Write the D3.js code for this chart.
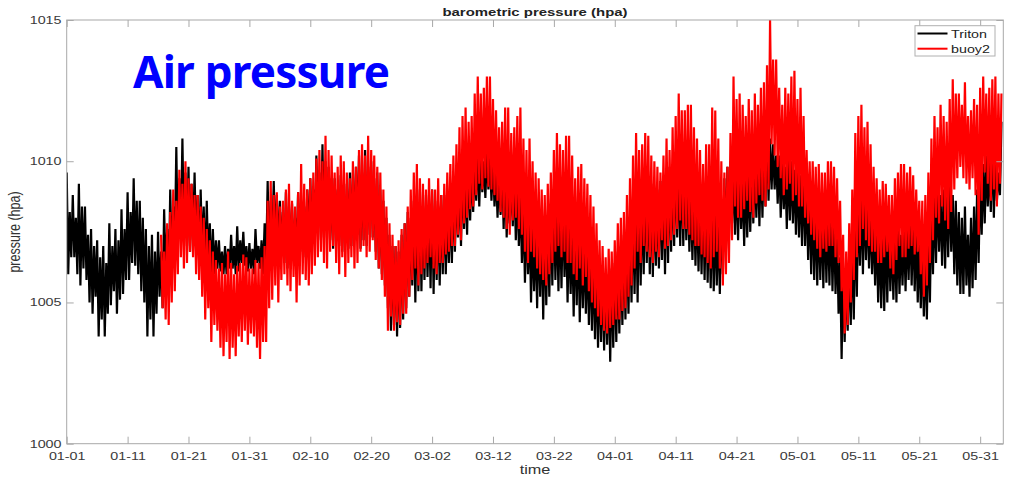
<!DOCTYPE html>
<html>
<head>
<meta charset="utf-8">
<script src="https://cdn.jsdelivr.net/npm/d3@7"></script>
<style>
  body { margin: 0; background: #fff; }
</style>
</head>
<body>
<script>
// 6-hourly readings (high, low, high, low per day)
const tritonJan = [
  1009.6,1006.0,1008.2,1006.6, 1008.8,1006.6,1008.0,1006.0, 1009.2,1005.6,1008.4,1006.2, 1008.4,1005.8,1007.4,1005.0,
  1007.6,1004.6,1007.0,1005.2, 1007.2,1003.8,1006.6,1004.4, 1007.0,1003.8,1006.4,1004.6, 1007.8,1004.9,1007.0,1005.4,
  1007.6,1004.6,1007.2,1005.1, 1008.3,1005.3,1007.6,1005.8, 1008.9,1005.8,1008.2,1006.4, 1009.4,1006.3,1008.6,1006.0,
  1008.6,1005.4,1008.0,1005.0, 1007.6,1003.8,1007.0,1004.4, 1007.4,1003.8,1006.8,1004.6, 1007.5,1005.2,1006.8,1004.8,
  1008.3,1006.0,1007.6,1005.4, 1009.0,1006.4,1008.4,1006.8, 1010.5,1007.0,1009.4,1007.4, 1010.8,1007.5,1009.6,1007.0,
  1009.8,1006.8,1009.2,1007.2, 1009.6,1006.9,1008.8,1006.4, 1009.0,1006.6,1008.4,1006.0, 1008.6,1006.3,1007.8,1005.8,
  1007.6,1006.0,1007.2,1006.2, 1007.2,1006.1,1006.8,1006.0, 1007.0,1006.0,1006.9,1006.2, 1007.4,1006.2,1007.0,1006.0,
  1007.7,1006.1,1007.2,1006.4, 1007.5,1006.3,1007.0,1006.1, 1007.1,1006.2,1006.9,1006.0];
const tritonFeb = [
  1007.6,1006.4,1007.0,1006.2, 1007.2,1006.0,1007.8,1006.4, 1009.3,1006.5,1008.6,1006.9, 1009.3,1007.0,1008.8,1006.6,
  1008.6,1006.8,1008.2,1006.4, 1008.9,1006.2,1008.4,1006.6, 1008.5,1006.5,1008.0,1006.8, 1008.9,1007.2,1008.6,1006.8,
  1008.4,1006.6,1009.0,1007.0, 1009.4,1007.3,1009.0,1007.6, 1010.2,1007.6,1009.6,1007.2, 1010.6,1007.3,1010.0,1007.6,
  1009.8,1007.2,1009.4,1006.9, 1009.4,1007.5,1009.0,1007.0, 1009.5,1006.8,1009.0,1007.2, 1009.2,1006.9,1009.6,1007.0,
  1009.6,1007.2,1009.8,1007.4, 1010.2,1006.9,1009.6,1007.2, 1010.4,1007.0,1009.8,1007.4, 1010.0,1007.3,1009.4,1006.8,
  1009.6,1006.2,1009.0,1006.0, 1008.6,1005.6,1008.0,1004.8, 1007.4,1004.0,1007.0,1004.2, 1007.0,1003.8,1006.8,1004.1,
  1007.4,1004.4,1007.8,1004.8, 1008.2,1005.2,1008.0,1005.6, 1008.6,1005.0,1008.2,1005.4, 1009.0,1005.4,1008.4,1005.8];
const tritonMar = [
  1008.8,1005.9,1008.4,1005.5, 1009.0,1005.3,1008.6,1005.8, 1008.4,1005.6,1008.8,1006.0, 1008.8,1006.0,1008.4,1006.4,
  1008.6,1006.4,1009.0,1006.8, 1009.4,1007.3,1009.2,1007.0, 1009.8,1007.6,1009.4,1007.4, 1010.2,1007.9,1009.8,1008.2,
  1010.0,1008.6,1010.3,1008.4, 1010.4,1008.9,1010.0,1008.7, 1010.3,1009.0,1010.1,1008.6, 1010.0,1008.4,1009.6,1008.0,
  1009.6,1008.1,1009.9,1007.6, 1009.8,1007.3,1009.2,1007.8, 1009.4,1007.7,1009.6,1007.2, 1009.2,1007.0,1008.8,1006.4,
  1008.4,1005.7,1008.2,1006.0, 1008.0,1005.0,1007.6,1005.4, 1007.6,1004.8,1007.9,1005.2, 1007.8,1004.4,1008.0,1004.9,
  1008.0,1005.2,1008.4,1005.6, 1008.6,1005.8,1008.2,1005.4, 1008.4,1005.5,1008.6,1005.9, 1008.0,1005.0,1007.8,1005.3,
  1007.6,1004.5,1007.9,1004.9, 1007.8,1004.3,1007.4,1004.8, 1007.2,1004.6,1007.0,1004.2, 1006.9,1004.0,1006.6,1003.7,
  1006.4,1003.4,1006.2,1003.6, 1006.2,1003.3,1006.0,1003.5, 1006.0,1002.9,1006.2,1003.4];
const tritonApr = [
  1006.4,1003.6,1006.8,1003.9, 1007.0,1004.2,1007.4,1004.4, 1007.6,1004.6,1008.0,1005.0, 1008.6,1005.3,1008.8,1005.0,
  1009.2,1005.6,1009.0,1006.0, 1009.6,1006.4,1009.2,1006.0, 1009.2,1005.9,1008.8,1006.3, 1009.0,1006.2,1009.3,1006.5,
  1009.4,1006.0,1009.6,1006.4, 1009.8,1006.8,1009.6,1007.0, 1010.2,1007.3,1009.8,1007.0, 1010.0,1007.0,1009.6,1007.2,
  1009.4,1006.8,1009.0,1006.5, 1009.0,1006.3,1008.8,1006.1, 1008.6,1006.0,1008.9,1005.8, 1008.8,1005.7,1008.4,1005.5,
  1008.4,1005.4,1008.2,1005.6, 1008.0,1005.3,1008.6,1006.0, 1009.4,1006.8,1009.8,1007.2, 1010.0,1007.8,1009.6,1007.4,
  1009.6,1007.2,1009.8,1007.6, 1009.3,1007.0,1009.6,1007.3, 1009.6,1007.5,1009.9,1007.8, 1010.0,1008.0,1010.2,1007.7,
  1010.4,1008.0,1010.8,1008.4, 1011.2,1008.6,1010.8,1009.0, 1010.6,1009.0,1010.2,1008.5, 1010.2,1008.0,1010.0,1008.3,
  1009.8,1007.6,1010.2,1007.9, 1010.0,1007.8,1009.7,1007.4];
const tritonMay = [
  1009.8,1007.3,1009.5,1007.0, 1009.6,1007.0,1009.2,1006.5, 1009.0,1006.0,1008.8,1005.8, 1008.6,1005.6,1008.4,1005.8,
  1008.4,1005.5,1008.6,1005.7, 1008.2,1005.6,1008.4,1005.4, 1008.0,1005.3,1007.4,1004.6, 1006.6,1003.0,1006.2,1003.6,
  1006.0,1004.0,1006.8,1004.2, 1007.6,1004.4,1008.4,1005.2, 1009.2,1006.3,1008.9,1006.0, 1009.0,1006.5,1008.6,1006.2,
  1008.4,1006.0,1008.0,1005.6, 1007.8,1005.0,1007.6,1004.8, 1007.6,1004.7,1007.9,1005.0, 1007.8,1005.4,1007.5,1005.1,
  1007.6,1005.0,1007.8,1005.3, 1007.4,1005.6,1007.6,1005.4, 1007.8,1005.8,1008.1,1005.6, 1008.0,1005.4,1007.6,1005.0,
  1007.2,1004.8,1007.0,1004.5, 1006.8,1004.4,1007.6,1005.0, 1008.6,1006.0,1008.9,1006.4, 1009.2,1006.8,1008.8,1006.3,
  1009.0,1006.2,1009.3,1006.6, 1009.4,1006.8,1008.8,1006.0, 1008.6,1005.6,1008.2,1005.3, 1008.0,1005.3,1008.4,1005.6,
  1007.4,1005.2,1008.0,1005.5, 1008.4,1005.8,1009.0,1006.4, 1009.6,1007.4,1009.9,1007.8];
const tritonJun = [1010.2,1008.4,1010.0,1008.2, 1010.8,1008.0,1010.4,1008.6, 1009.6,1008.8,1011.4];

const buoyJan = [
  1007.4,1004.8,1006.8,1004.4, 1007.8,1004.2,1008.2,1005.0, 1009.0,1005.4,1008.6,1006.0, 1009.7,1006.6,1009.2,1006.2,
  1010.0,1006.4,1009.4,1006.8, 1009.2,1006.6,1008.8,1006.0, 1008.8,1005.8,1008.4,1005.2, 1008.0,1004.4,1007.6,1004.8,
  1007.2,1003.6,1006.8,1004.2, 1006.5,1004.0,1006.2,1003.4, 1006.4,1003.1,1006.0,1003.6, 1006.8,1003.0,1006.4,1003.4,
  1006.0,1003.1,1006.3,1003.8, 1006.4,1003.6,1006.7,1004.0, 1006.6,1003.5,1006.2,1003.9, 1006.2,1003.8,1006.5,1003.4];
const buoyFeb = [
  1006.4,1003.0,1006.6,1003.6, 1007.0,1003.6,1008.6,1004.8, 1009.3,1005.1,1008.8,1005.6, 1008.9,1005.0,1008.4,1005.8,
  1008.6,1006.0,1009.0,1005.6, 1009.2,1005.4,1008.6,1005.9, 1008.4,1005.0,1008.9,1005.6, 1009.9,1006.0,1009.2,1005.8,
  1009.0,1005.6,1009.4,1006.0, 1009.6,1006.3,1010.1,1006.6, 1010.4,1006.8,1010.0,1006.4, 1010.9,1006.2,1010.4,1006.8,
  1010.2,1007.0,1009.6,1006.4, 1009.8,1006.0,1010.2,1006.6, 1010.0,1005.9,1009.6,1006.4, 1009.4,1006.6,1010.0,1006.2,
  1009.8,1006.4,1010.4,1006.8, 1010.6,1007.0,1010.2,1006.6, 1010.9,1006.8,1010.4,1007.2, 1010.2,1006.5,1009.8,1006.2,
  1009.6,1005.8,1009.0,1005.2, 1008.4,1004.0,1007.8,1004.5, 1007.4,1004.0,1007.0,1004.3, 1007.2,1004.2,1007.6,1004.6,
  1007.8,1004.6,1008.4,1005.2, 1009.0,1005.8,1009.6,1006.2, 1009.9,1005.6,1009.4,1006.0, 1009.2,1006.2,1009.0,1006.4];
const buoyMar = [
  1009.4,1006.6,1009.0,1006.2, 1009.0,1006.0,1009.4,1006.4, 1008.8,1006.4,1009.2,1006.7, 1009.6,1006.8,1009.9,1007.0,
  1010.2,1007.0,1010.6,1007.4, 1011.2,1007.2,1011.6,1007.8, 1011.9,1008.0,1011.4,1008.3, 1011.6,1008.4,1012.4,1008.8,
  1013.0,1009.2,1012.4,1009.0, 1012.6,1009.4,1013.0,1009.1, 1013.0,1009.0,1012.2,1008.8, 1011.8,1008.6,1011.2,1008.2,
  1011.4,1008.0,1011.9,1007.6, 1011.9,1007.4,1011.0,1007.9, 1011.2,1008.0,1011.6,1007.6, 1011.9,1007.4,1010.8,1006.8,
  1010.4,1006.4,1010.8,1006.8, 1010.0,1006.6,1009.6,1006.2, 1009.4,1006.0,1009.0,1005.8, 1008.8,1005.6,1009.2,1006.0,
  1009.6,1006.4,1010.4,1006.8, 1011.0,1007.0,1010.6,1006.6, 1010.4,1006.8,1010.9,1006.4, 1010.9,1006.4,1010.2,1006.0,
  1009.4,1005.8,1009.8,1006.2, 1009.9,1005.6,1009.4,1005.9, 1009.2,1005.4,1008.8,1005.0, 1008.4,1004.8,1007.8,1004.5,
  1007.2,1004.2,1007.0,1004.0, 1006.6,1003.9,1006.9,1004.1, 1006.8,1004.2,1007.2,1004.4];
const buoyApr = [
  1007.8,1004.4,1008.0,1004.7, 1008.2,1004.8,1008.8,1005.2, 1009.4,1005.6,1010.2,1006.2, 1011.0,1006.8,1010.4,1006.4,
  1010.6,1007.0,1011.0,1006.8, 1010.9,1006.6,1010.2,1006.4, 1010.0,1006.8,1009.8,1006.6, 1009.6,1007.2,1010.2,1006.9,
  1010.8,1007.0,1010.4,1007.2, 1011.2,1007.4,1011.6,1007.6, 1012.4,1007.9,1011.8,1007.6, 1011.8,1007.6,1012.0,1007.4,
  1012.0,1007.2,1011.2,1007.0, 1010.8,1007.0,1010.4,1006.7, 1009.9,1006.6,1010.6,1006.4, 1010.6,1006.2,1011.9,1006.6,
  1011.8,1006.8,1010.8,1006.2, 1010.0,1005.6,1009.6,1006.0, 1009.8,1006.4,1011.0,1007.2, 1013.0,1008.4,1012.2,1008.0,
  1012.4,1008.0,1012.0,1008.3, 1011.6,1008.6,1012.2,1008.2, 1011.8,1008.0,1012.4,1008.5, 1012.0,1008.8,1012.6,1008.6,
  1012.8,1008.4,1013.4,1009.0, 1015.0,1010.6,1013.6,1010.2, 1013.6,1009.8,1012.6,1009.4, 1012.0,1008.8,1012.6,1009.0,
  1012.4,1009.2,1013.0,1008.6, 1013.2,1008.8,1012.2,1008.4];
const buoyMay = [
  1012.6,1008.4,1011.6,1008.0, 1010.4,1007.8,1010.0,1007.4, 1010.0,1007.2,1009.8,1006.9, 1009.9,1006.6,1009.6,1006.9,
  1009.6,1006.8,1010.0,1007.0, 1010.0,1007.0,1009.8,1006.6, 1009.4,1006.4,1008.6,1005.4, 1007.4,1003.9,1006.8,1004.2,
  1007.8,1005.0,1009.0,1005.8, 1011.0,1006.6,1011.6,1007.0, 1012.0,1007.6,1011.2,1007.2, 1011.4,1007.0,1010.6,1006.8,
  1009.8,1006.8,1009.4,1006.4, 1009.0,1006.4,1009.3,1006.6, 1009.2,1006.8,1008.8,1006.2, 1008.8,1006.0,1009.4,1006.5,
  1009.6,1007.0,1009.9,1006.6, 1009.9,1006.6,1009.6,1006.9, 1009.8,1007.0,1009.5,1006.7, 1009.0,1006.8,1008.6,1006.0,
  1008.6,1005.2,1008.8,1005.6, 1009.6,1006.4,1010.8,1007.2, 1011.6,1008.0,1011.2,1007.8, 1012.0,1008.4,1011.6,1007.9,
  1011.4,1007.6,1012.2,1008.2, 1012.9,1009.0,1012.4,1009.4, 1012.4,1009.8,1012.0,1009.4, 1012.8,1009.2,1011.6,1009.0,
  1011.8,1009.4,1012.2,1008.8, 1012.0,1007.4,1012.6,1008.6, 1013.0,1009.6,1012.4,1009.2];
const buoyJun = [1012.6,1008.6,1012.9,1009.0, 1013.0,1008.4,1012.4,1009.2, 1012.4];

const tickLabels = ["01-01","01-11","01-21","01-31","02-10","02-20","03-02","03-12","03-22","04-01","04-11","04-21","05-01","05-11","05-21","05-31"];
const yTicks = [1000, 1005, 1010, 1015];
const seriesNames = ["Triton", "buoy2"];
const seriesColors = ["#000000", "#ff0000"];

const width = 1011, height = 477;
const plot = { left: 66.7, right: 1003.3, top: 20, bottom: 443.7 };
const sx = 1.3; // the figure is stretched sideways

const DAY = 864e5;
const t0 = Date.UTC(2019, 0, 1);
const parse = d3.utcParse("%Y-%m-%d");

const x = d3.scaleUtc()
  .domain([new Date(t0), new Date(t0 + 153.8 * DAY)])
  .range([plot.left, plot.right]);
const y = d3.scaleLinear()
  .domain([1000, 1015])
  .range([plot.bottom, plot.top]);

const toPoints = (vals, startDay) => vals.map((v, i) => ({ date: new Date(t0 + (startDay + i * 0.25) * DAY), v }));
const triton = toPoints([].concat(tritonJan, tritonFeb, tritonMar, tritonApr, tritonMay, tritonJun), 0);
const buoy2 = toPoints([].concat(buoyJan, buoyFeb, buoyMar, buoyApr, buoyMay, buoyJun), 15.5);

const svg = d3.select("body").append("svg")
  .attr("width", width)
  .attr("height", height)
  .style("font-family", "'Liberation Sans', Arial, sans-serif");

svg.append("rect").attr("width", width).attr("height", height).attr("fill", "#fff");

svg.append("defs").append("clipPath").attr("id", "clip")
  .append("rect")
  .attr("x", plot.left).attr("y", plot.top)
  .attr("width", plot.right - plot.left).attr("height", plot.bottom - plot.top);

// lines
const line = d3.line().x(d => x(d.date)).y(d => y(d.v));
svg.append("g").attr("clip-path", "url(#clip)")
  .selectAll("path")
  .data([triton, buoy2])
  .join("path")
  .attr("d", line)
  .attr("fill", "none")
  .attr("stroke", (d, i) => seriesColors[i])
  .attr("stroke-width", 2.2)
  .attr("stroke-linejoin", "bevel");

// axes (ticks inward, box)
const tickDates = tickLabels.map(s => parse("2019-" + s));
const fmt = d3.utcFormat("%m-%d");

const styleAxis = g => {
  g.attr("font-family", null).attr("font-size", null);
  g.select(".domain").remove();
  g.selectAll(".tick line").attr("stroke", "#a8a8a8");
  g.selectAll(".tick text").attr("fill", "#3a3a3a").style("font-size", "11px");
};

svg.append("g")
  .attr("transform", `translate(0,${plot.bottom})`)
  .call(d3.axisBottom(x).tickValues(tickDates).tickSize(-7).tickPadding(8).tickFormat(fmt))
  .call(styleAxis)
  .call(g => g.selectAll(".tick text").attr("transform", `scale(${sx},1)`));

svg.append("g")
  .attr("transform", `translate(0,${plot.top})`)
  .call(d3.axisTop(x).tickValues(tickDates).tickSize(-7).tickFormat(""))
  .call(styleAxis);

svg.append("g")
  .attr("transform", `translate(${plot.left},0)`)
  .call(d3.axisLeft(y).tickValues(yTicks).tickSize(-7).tickPadding(4).tickFormat(d3.format("d")))
  .call(styleAxis)
  .call(g => g.selectAll(".tick text").attr("transform", `scale(${sx},1)`));

svg.append("g")
  .attr("transform", `translate(${plot.right},0)`)
  .call(d3.axisRight(y).tickValues(yTicks).tickSize(-7).tickFormat(""))
  .call(styleAxis);

svg.append("rect")
  .attr("x", plot.left).attr("y", plot.top)
  .attr("width", plot.right - plot.left).attr("height", plot.bottom - plot.top)
  .attr("fill", "none")
  .attr("stroke", "#a8a8a8");

// title and labels
svg.append("text")
  .attr("transform", `translate(535,15.5) scale(${sx},1)`)
  .attr("text-anchor", "middle")
  .style("font-size", "11.5px")
  .style("font-weight", "bold")
  .attr("fill", "#222")
  .text("barometric pressure (hpa)");

svg.append("text")
  .attr("transform", `translate(535,474) scale(${sx},1)`)
  .attr("text-anchor", "middle")
  .style("font-size", "12.5px")
  .attr("fill", "#333")
  .text("time");

svg.append("text")
  .attr("transform", `translate(20,232) rotate(-90) scale(1,${sx})`)
  .attr("text-anchor", "middle")
  .style("font-size", "12.5px")
  .attr("fill", "#333")
  .text("pressure (hpa)");

// legend
const legend = svg.append("g");
legend.append("rect")
  .attr("x", 915).attr("y", 25.7).attr("width", 80).attr("height", 30.3)
  .attr("fill", "#fff").attr("stroke", "#b0b0b0");
const items = legend.selectAll("g.item")
  .data(seriesNames)
  .join("g")
  .attr("class", "item")
  .attr("transform", (d, i) => `translate(0,${33.5 + i * 15.2})`);
items.append("line")
  .attr("x1", 917.5).attr("x2", 947.5)
  .attr("stroke", (d, i) => seriesColors[i])
  .attr("stroke-width", 2);
items.append("text")
  .attr("transform", `translate(951,4) scale(${sx},1)`)
  .style("font-size", "11px")
  .attr("fill", "#222")
  .text(d => d);

// annotation
svg.append("text")
  .attr("x", 133).attr("y", 88)
  .style("font-family", "'Noto Sans', 'Open Sans', sans-serif")
  .style("font-size", "44px")
  .style("font-weight", "bold")
  .attr("fill", "#0000ff")
  .attr("textLength", 257)
  .text("Air pressure");
</script>
</body>
</html>
